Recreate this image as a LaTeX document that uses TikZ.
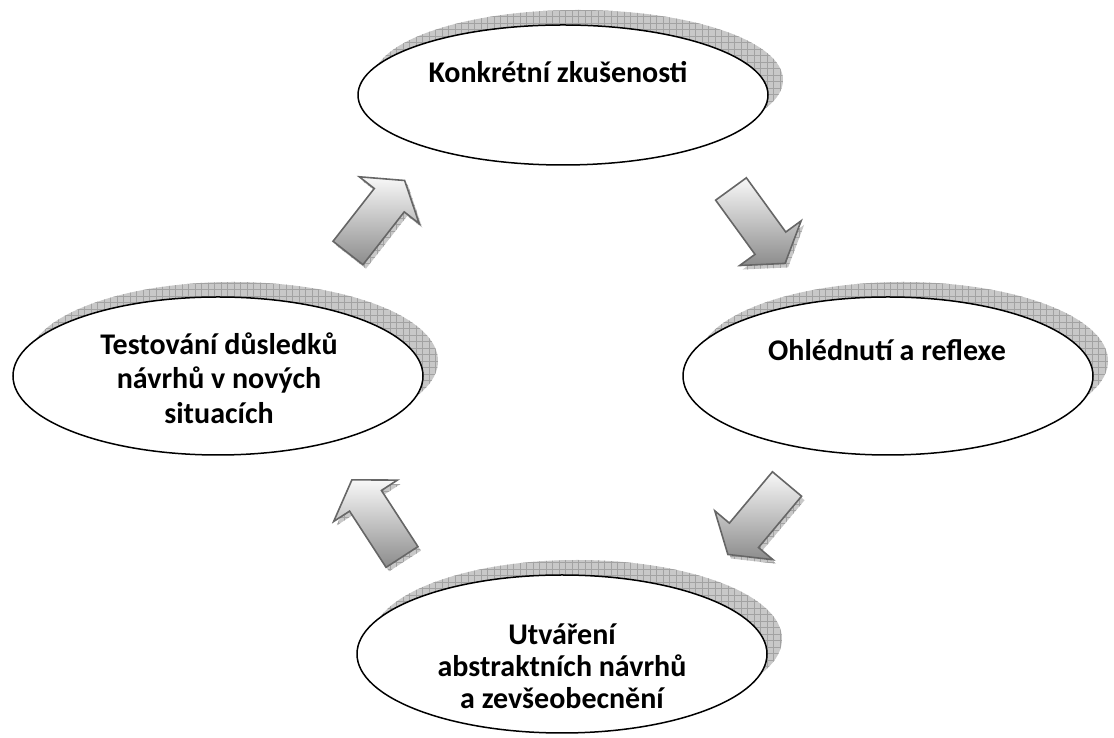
\documentclass[tikz,border=0pt]{standalone}
\usepackage{fontspec}
\setmainfont{Carlito}
\usetikzlibrary{calc,shapes.geometric}

\definecolor{shadowbase}{HTML}{C8C8C8}
\definecolor{shadowgrid}{HTML}{A2A2A2}
\definecolor{arrowline}{HTML}{666666}
\definecolor{arrowtop}{HTML}{F8F8F8}
\definecolor{arrowbottom}{HTML}{8C8C8C}

\tikzset{
  stage/.style={ellipse, draw=black, fill=white, line width=1.5pt,
    inner sep=0pt, minimum width=410, minimum height=158},
  stagetext/.style={font=\bfseries\fontsize{30}{34}\selectfont,
    align=center, inner sep=0pt},
  arrowbody/.style={draw=arrowline, line width=1.6pt, line join=miter,
    top color=arrowtop, bottom color=arrowbottom},
  hatchgrid/.style={shadowgrid, line width=0.5pt},
}

% offset grey hatched shadow behind an oval: centre x, centre y, y radius
\newcommand\ovalshadow[3]{%
  \begin{scope}
    \clip (#1+15,#2+15) ellipse [x radius=205, y radius=#3];
    \fill[shadowbase] (#1-200,#2-100) rectangle (#1+230,#2+110);
    \draw[hatchgrid, step=6.5] (#1-200,#2-100) grid (#1+230,#2+110);
  \end{scope}}

% thick block arrow: name, tail x, tail y, direction angle
\newcommand\blockarrow[4]{%
  \begin{scope}[shift={(#2,#3)}, rotate=#4]
    \coordinate (#1-1) at (0,-19);
    \coordinate (#1-2) at (67,-19);
    \coordinate (#1-3) at (67,-38);
    \coordinate (#1-4) at (92,0);
    \coordinate (#1-5) at (67,38);
    \coordinate (#1-6) at (67,19);
    \coordinate (#1-7) at (0,19);
  \end{scope}
  \begin{scope}
    \clip ($(#1-1)+(3,-4)$) -- ($(#1-2)+(3,-4)$) -- ($(#1-3)+(3,-4)$)
      -- ($(#1-4)+(3,-4)$) -- ($(#1-5)+(3,-4)$) -- ($(#1-6)+(3,-4)$)
      -- ($(#1-7)+(3,-4)$) -- cycle;
    \fill[shadowbase] ($(#2,#3)+(-120,-120)$) rectangle ($(#2,#3)+(120,120)$);
    \draw[hatchgrid, step=6.5] ($(#2,#3)+(-120,-120)$) grid ($(#2,#3)+(120,120)$);
  \end{scope}
  \path[arrowbody] (#1-1) -- (#1-2) -- (#1-3) -- (#1-4) -- (#1-5)
    -- (#1-6) -- (#1-7) -- cycle;}

\begin{document}
\begin{tikzpicture}[x=1pt, y=1pt]
  \useasboundingbox (0,0) rectangle (1114,738);

  % shadows of the four ovals
  \ovalshadow{563}{643}{70}
  \ovalshadow{888}{362}{79}
  \ovalshadow{218}{362}{79}
  \ovalshadow{562}{84}{79}

  % the four stages of the cycle
  \node[stage, minimum height=140] (konkretni) at (563,643) {};
  \node[stage] (ohlednuti) at (888,362) {};
  \node[stage] (testovani) at (218,362) {};
  \node[stage] (utvareni) at (562,84) {};

  \node[stagetext] (konkretni-t) at (558,666) {Konkrétní zkušenosti};
  \node[stagetext] (ohlednuti-t) at (887,388) {Ohlédnutí a reflexe};
  \node[stagetext, font=\bfseries\fontsize{30}{34.5}\selectfont]
    (testovani-t) at (219,360) {Testování důsledků\\návrhů v nových\\situacích};
  \node[stagetext, font=\bfseries\fontsize{30}{32}\selectfont]
    (utvareni-t) at (562,72) {Utváření\\abstraktních návrhů\\a zevšeobecnění};

  % arrows running clockwise between the stages
  \blockarrow{ar1}{731}{549}{-54}
  \blockarrow{ar2}{787}{254}{-130}
  \blockarrow{ar3}{402}{181}{123}
  \blockarrow{ar4}{348}{485}{52}
\end{tikzpicture}
\end{document}
